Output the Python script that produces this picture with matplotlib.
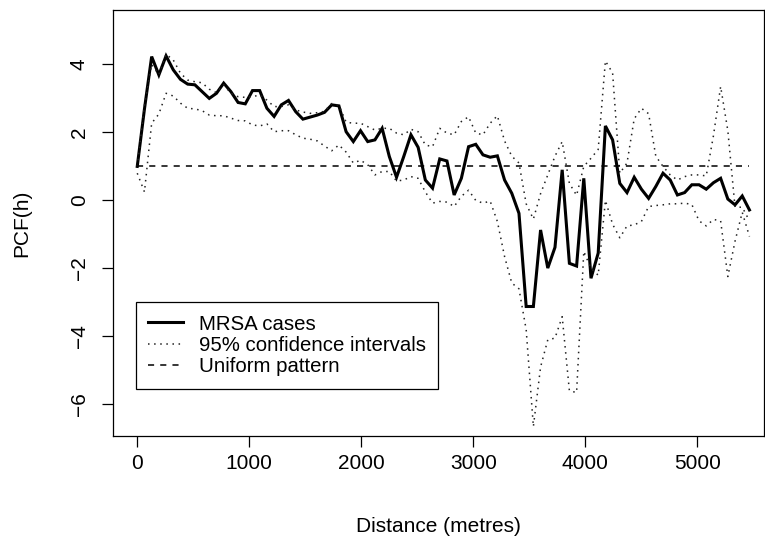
import numpy as np
import matplotlib
matplotlib.use("Agg")
import matplotlib.pyplot as plt

plt.rcParams['font.family'] = ['Liberation Sans', 'DejaVu Sans']

# distance lags (metres), 86 bins
lag_step = 64.3
dist = np.arange(86) * lag_step

mrsa = [1.00, 2.69, 4.23, 3.69, 4.25, 3.84, 3.56, 3.42, 3.40, 3.20,
        3.00, 3.15, 3.45, 3.20, 2.88, 2.84, 3.23, 3.23, 2.71, 2.47,
        2.81, 2.94, 2.61, 2.39, 2.45, 2.51, 2.59, 2.81, 2.78, 2.02,
        1.73, 2.05, 1.73, 1.78, 2.12, 1.29, 0.68, 1.29, 1.93, 1.56,
        0.60, 0.36, 1.22, 1.16, 0.16, 0.65, 1.58, 1.65, 1.34, 1.27,
        1.31, 0.60, 0.21, -0.38, -3.12, -3.12, -0.87, -1.99, -1.38, 0.90,
        -1.85, -1.93, 0.65, -2.29, -1.55, 2.19, 1.78, 0.50, 0.23, 0.68,
        0.33, 0.06, 0.41, 0.80, 0.60, 0.16, 0.23, 0.46, 0.46, 0.33,
        0.52, 0.65, 0.04, -0.13, 0.13, -0.28]

ci_upper = [1.00, 2.80, 4.00, 3.70, 4.30, 4.13, 3.74, 3.54, 3.49, 3.46,
            3.27, 3.17, 3.40, 3.15, 3.05, 3.03, 3.05, 3.10, 2.95, 2.76,
            2.76, 2.81, 2.66, 2.60, 2.56, 2.58, 2.62, 2.85, 2.80, 2.30,
            2.27, 2.27, 2.17, 2.07, 2.12, 2.12, 1.98, 1.93, 2.09, 2.02,
            1.63, 1.58, 2.12, 1.98, 1.93, 2.32, 2.46, 1.98, 1.93, 2.27,
            2.49, 1.75, 1.30, 1.10, -0.10, -0.55, 0.20, 0.75, 1.30, 1.73,
            0.50, 0.15, 1.00, 1.24, 1.50, 4.10, 3.75, 0.80, 1.10, 2.40,
            2.71, 2.55, 1.30, 1.00, 0.75, 0.60, 0.70, 0.75, 0.75, 0.72,
            1.90, 3.35, 2.05, -0.20, -0.20, -0.60]

ci_lower = [0.80, 0.25, 2.27, 2.54, 3.15, 3.07, 2.86, 2.71, 2.69, 2.64,
            2.51, 2.49, 2.49, 2.42, 2.35, 2.34, 2.22, 2.19, 2.25, 2.02,
            2.05, 2.05, 1.93, 1.83, 1.80, 1.75, 1.60, 1.46, 1.63, 1.42,
            1.10, 1.18, 1.05, 0.75, 0.85, 0.85, 0.57, 0.60, 0.70, 0.65,
            0.25, -0.08, -0.03, -0.05, -0.18, 0.12, 0.30, 0.00, -0.08, -0.02,
            -0.62, -1.65, -2.43, -2.60, -3.80, -6.65, -4.90, -4.10, -4.05, -3.42,
            -5.60, -5.65, -1.50, -2.00, -2.20, 0.00, -0.70, -1.10, -0.75, -0.72,
            -0.62, -0.18, -0.15, -0.13, -0.10, -0.10, -0.08, -0.12, -0.60, -0.75,
            -0.56, -0.60, -2.24, -1.20, -0.35, -1.06]

uniform_level = 1.0

xticks = [0, 1000, 2000, 3000, 4000, 5000]
yticks = [-6, -4, -2, 0, 2, 4]

fig = plt.figure(figsize=(7.65, 5.42), dpi=100)
ax = fig.add_axes([112.5 / 765, 1 - 435.7 / 542, (763.5 - 112.5) / 765, (435.7 - 10) / 542])

ax.plot(dist, mrsa, color='black', lw=2.2, solid_joinstyle='miter', label='MRSA cases')
ax.plot(dist, ci_upper, color='#222222', lw=1.1, linestyle=(0, (1, 3)), label='95% confidence intervals')
ax.plot(dist, ci_lower, color='#222222', lw=1.1, linestyle=(0, (1, 3)))
ax.hlines(uniform_level, dist[0], dist[-1], color='black', lw=1.1,
          linestyles=[(0, (4, 4))], label='Uniform pattern')

ax.set_xlim(-221, 5591)
ax.set_ylim(-6.92, 5.60)
ax.set_xticks(xticks)
ax.set_yticks(yticks)
ax.set_yticklabels([str(v).replace('-', '\u2212') for v in yticks], rotation=90, va='center')
ax.tick_params(direction='out', length=8, width=0.9, labelsize=15, colors='black')
ax.tick_params(axis='x', pad=5)
ax.tick_params(axis='y', pad=9)
for s in ax.spines.values():
    s.set_linewidth(0.9)

ax.set_xlabel('Distance (metres)', fontsize=15)
ax.set_ylabel('PCF(h)', fontsize=15)
ax.xaxis.set_label_coords(0.5, -0.19)
ax.yaxis.set_label_coords(-0.125, 0.5)

leg = ax.legend(loc='upper left', bbox_to_anchor=(0.036, 0.3134), borderaxespad=0,
                fontsize=14.7, frameon=True, fancybox=False, framealpha=1,
                edgecolor='black', handlelength=1.7, handletextpad=0.8,
                borderpad=0.6, labelspacing=0.12)
leg.get_frame().set_linewidth(0.9)

fig.savefig('out.png', dpi=100)
